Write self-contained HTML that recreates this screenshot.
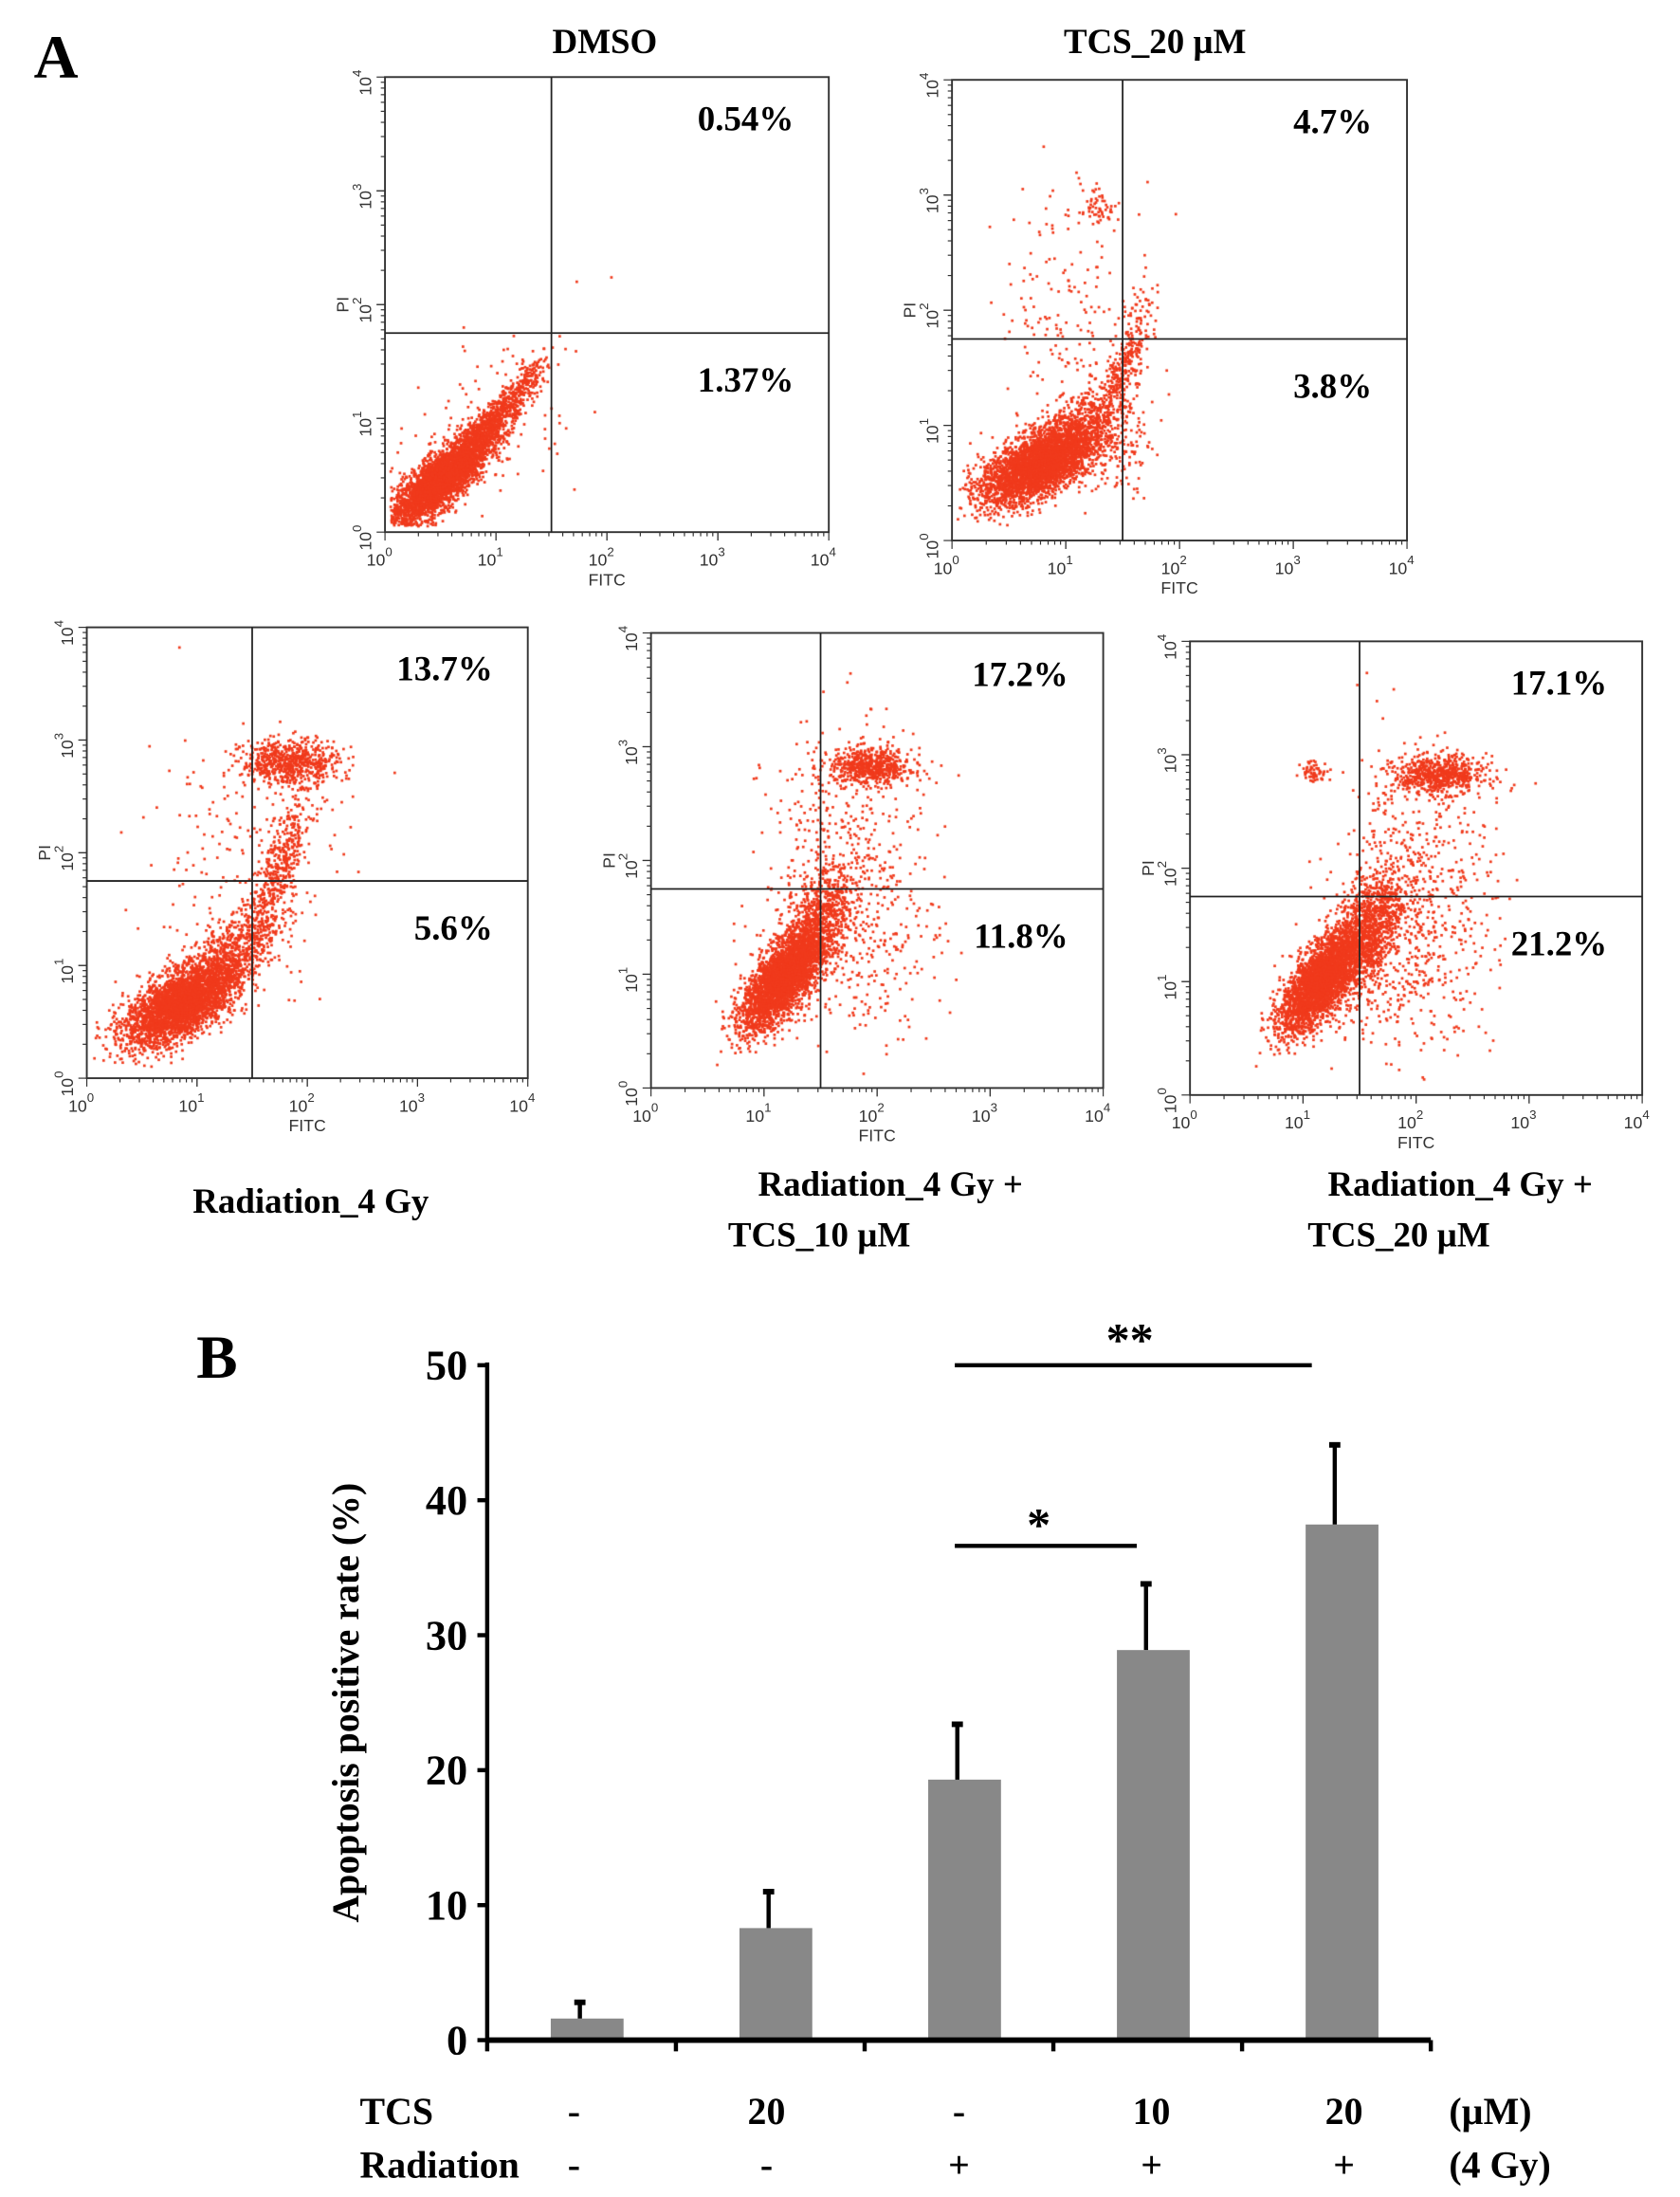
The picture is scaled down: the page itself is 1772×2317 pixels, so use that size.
<!DOCTYPE html>
<html><head><meta charset="utf-8"><style>
html,body{margin:0;padding:0;background:#fff}
#wrap{position:relative;width:1772px;height:2317px}
canvas,svg{position:absolute;left:0;top:0}
text{font-family:"Liberation Serif",serif}
.ax{font-family:"Liberation Sans",sans-serif;font-size:12px;fill:#333}
</style></head><body>
<div id="wrap">
<canvas id="dots" width="1772" height="2317"></canvas>
<svg id="fig" width="1772" height="2317" viewBox="0 0 1200 1569"></svg>
</div>
<script>
// ---- Panel A data ----
const plotNames=["DMSO","TCS_20 µM","Radiation_4 Gy","Radiation_4 Gy + TCS_10 µM","Radiation_4 Gy + TCS_20 µM"];
const upperPct=["0.54%","4.7%","13.7%","17.2%","17.1%"];
const lowerPct=["1.37%","3.8%","5.6%","11.8%","21.2%"];
const gateX=[1.5,1.5,1.5,1.5,1.5];
const gateY=[1.75,1.75,1.75,1.75,1.75];
// clusters: [plot, cx(log), cy(log), sx, sy, rho, n]
const clusters=[
[0,0.5,0.45,0.22,0.2,0.8,3500],[0,0.95,0.95,0.2,0.2,0.9,900],[0,1.3,1.4,0.1,0.1,0.8,80],[0,0.8,0.8,0.5,0.5,0.6,150],
[1,0.75,0.65,0.25,0.17,0.6,3200],[1,1.05,0.9,0.2,0.2,0.6,700],[1,1.5,1.45,0.12,0.3,0.8,350],[1,1.3,2.9,0.07,0.08,0,50],[1,1.1,2.0,0.35,0.6,0,200],[1,1.45,0.8,0.15,0.2,0,120],
[2,0.85,0.65,0.25,0.18,0.6,3200],[2,1.25,1.05,0.25,0.25,0.7,800],[2,1.75,1.85,0.15,0.35,0.8,450],[2,1.85,2.8,0.22,0.1,0,650],[2,1.4,2.0,0.45,0.6,0,180],
[3,1.15,0.95,0.17,0.22,0.7,3000],[3,1.45,1.35,0.15,0.3,0.6,900],[3,1.95,2.82,0.18,0.08,0,600],[3,1.7,2.0,0.35,0.6,0,450],[3,1.8,1.3,0.4,0.4,0,250],
[4,1.15,1.0,0.17,0.22,0.7,3000],[4,1.55,1.4,0.17,0.3,0.6,1200],[4,2.2,2.82,0.2,0.08,0,650],[4,1.1,2.85,0.06,0.05,0,60],[4,2.0,1.9,0.35,0.6,0,500],[4,1.9,1.2,0.4,0.4,0,300]
];
// ---- Panel B data ----
const groups=["DMSO","TCS 20","Rad","Rad+TCS10","Rad+TCS20"];
const meanVals=[1.6,8.3,19.3,28.9,38.2];
const errVals=[1.2,2.7,4.1,4.9,5.9];
const yTicks=[0,10,20,30,40,50];
const tcsLabels=["-","20","-","10","20"];
const radLabels=["-","-","+","+","+"];

const NS="http://www.w3.org/2000/svg";
const svg=document.getElementById('fig');
function mk(tag,attrs,parent,txt){const e=document.createElementNS(NS,tag);for(const k in attrs)e.setAttribute(k,attrs[k]);if(txt!==undefined)e.textContent=txt;(parent||svg).appendChild(e);return e;}

const boxes=[{l:275,r:592,t:55,b:380},{l:680,r:1005,t:57,b:386},{l:62,r:377,t:448,b:770},{l:465,r:788,t:452,b:777},{l:850,r:1173,t:458,b:782}];
const ctx=document.getElementById('dots').getContext('2d');
const S=1772/1200;
let seed=12345;function rnd(){seed=(seed*1103515245+12345)&0x7fffffff;return seed/0x7fffffff;}
function gauss(){let u=rnd()||1e-6,v=rnd();return Math.sqrt(-2*Math.log(u))*Math.cos(2*Math.PI*v);}

boxes.forEach((B,i)=>{
  const g=mk('g',{},svg);
  
  
  const xs=v=>B.l+(B.r-B.l)*v/4, ys=v=>B.b-(B.b-B.t)*v/4;
  ctx.fillStyle='#f03a1c';
  clusters.filter(c=>c[0]===i).forEach(c=>{
    for(let k=0;k<c[6];k++){const a=gauss(),b=gauss();const x=c[1]+c[3]*a,y=c[2]+c[4]*(c[5]*a+Math.sqrt(1-c[5]*c[5])*b);
      if(x<0.05||x>3.95||y<0.05||y>3.95)continue;ctx.fillRect(xs(x)*S-1.3,ys(y)*S-1.3,2.7,2.7);}
  });
  const fr=mk('rect',{x:B.l,y:B.t,width:B.r-B.l,height:B.b-B.t,fill:'none',stroke:'#333','stroke-width':1.3},g);
  
  const gv=mk('line',{x1:xs(gateX[i]),x2:xs(gateX[i]),y1:B.t,y2:B.b,stroke:'#222','stroke-width':1.2},g);
  
  const gh=mk('line',{x1:B.l,x2:B.r,y1:ys(gateY[i]),y2:ys(gateY[i]),stroke:'#222','stroke-width':1.2},g);
  
  for(let d=0;d<4;d++)for(let m=1;m<=10;m++){const v=d+Math.log10(m);
    mk('line',{x1:xs(v),x2:xs(v),y1:B.b,y2:B.b+(m===1||m===10?6:3),stroke:'#333','stroke-width':0.8},g);
    mk('line',{y1:ys(v),y2:ys(v),x1:B.l,x2:B.l-(m===1||m===10?6:3),stroke:'#333','stroke-width':0.8},g);}
  for(let d=0;d<=4;d++){
    const tx=mk('text',{x:xs(d)-4,y:B.b+24,class:'ax','text-anchor':'middle'},g);tx.innerHTML='10<tspan dy="-7" font-size="9">'+d+'</tspan>';
    const ty=mk('text',{transform:`translate(${B.l-10},${ys(d)+4}) rotate(-90)`,class:'ax','text-anchor':'middle'},g);ty.innerHTML='10<tspan dy="-7" font-size="9">'+d+'</tspan>';
  }
  const fx=mk('text',{x:xs(2),y:B.b+38,class:'ax','text-anchor':'middle'},g,'FITC');
  
  const fy=mk('text',{transform:`translate(${B.l-26},${ys(2)}) rotate(-90)`,class:'ax','text-anchor':'middle'},g,'PI');
  
  const u=mk('text',{x:B.r-25,y:B.t+38,'font-size':25,'font-weight':'bold','text-anchor':'end'},g,upperPct[i]);
  
  const lo=mk('text',{x:B.r-25,y:ys(gateY[i])+42,'font-size':25,'font-weight':'bold','text-anchor':'end'},g,lowerPct[i]);
  
});
function lab(x,y,t,name,size,anchor){const e=mk('text',{x:x,y:y,'font-size':size||25,'font-weight':'bold','text-anchor':anchor||'middle'},svg,t);return e;}
lab(40,55,'A','panel-a-label',44);
lab(432,38,'DMSO','title-dmso');
lab(825,38,'TCS_20 µM','title-tcs-20');
lab(222,866,'Radiation_4 Gy','title-radiation');
lab(636,854,'Radiation_4 Gy +','title-rad-tcs10-line1');
lab(520,890,'TCS_10 µM','title-rad-tcs10-line2',25,'start');
lab(1043,854,'Radiation_4 Gy +','title-rad-tcs20-line1');
lab(934,890,'TCS_20 µM','title-rad-tcs20-line2',25,'start');

// ---- Panel B ----
lab(155,984,'B','panel-b-label',44);
const X0=348,X1=1022,Y0=1457,Y50=975;
const yS=v=>Y0-(Y0-Y50)*v/50;
const step=(X1-X0)/groups.length;
const xC=i=>X0+step*(i+0.5);
const gb=mk('g',{},svg);
meanVals.forEach((v,i)=>{
  const bw=52;
  const r=mk('rect',{x:xC(i)-bw/2+4,y:yS(v),width:bw,height:Y0-yS(v),fill:'#888'},gb);
  
  const ex=xC(i)-bw/2+4+bw*0.4;
  const e=mk('line',{x1:ex,x2:ex,y1:yS(v),y2:yS(v+errVals[i]),stroke:'#000','stroke-width':3},gb);
  
  mk('line',{x1:ex-4,x2:ex+4,y1:yS(v+errVals[i]),y2:yS(v+errVals[i]),stroke:'#000','stroke-width':4},gb);
});
const ya=mk('line',{x1:X0,x2:X0,y1:Y50-2,y2:Y0,stroke:'#000','stroke-width':3},gb);
const xa=mk('line',{x1:X0,x2:X1,y1:Y0,y2:Y0,stroke:'#000','stroke-width':4},gb);
yTicks.forEach(t=>{mk('line',{x1:X0-7,x2:X0,y1:yS(t),y2:yS(t),stroke:'#000','stroke-width':3},gb);
  const tl=mk('text',{x:X0-14,y:yS(t)+10,'font-size':30,'font-weight':'bold','text-anchor':'end'},gb,String(t));
  });
for(let i=0;i<=groups.length;i++)mk('line',{x1:X0+step*i,x2:X0+step*i,y1:Y0,y2:Y0+8,stroke:'#000','stroke-width':3},gb);
const yt=mk('text',{transform:'translate(256,1216) rotate(-90)','font-size':27,'font-weight':'bold','text-anchor':'middle'},gb,'Apoptosis positive rate (%)');

const s2=mk('line',{x1:682,x2:937,y1:975,y2:975,stroke:'#000','stroke-width':3},gb);
lab(807,968,'**','significance-stars-double',34);
const s1=mk('line',{x1:682,x2:812,y1:1104,y2:1104,stroke:'#000','stroke-width':3},gb);
lab(742,1100,'*','significance-star-single',34);
lab(257,1517,'TCS','row-label-tcs',27,'start');
lab(257,1555,'Radiation','row-label-radiation',27,'start');
tcsLabels.forEach((t,i)=>lab(410+i*137.5,1517,t,'tcs-value',27));
radLabels.forEach((t,i)=>lab(410+i*137.5,1555,t,'radiation-value',27));
lab(1035,1517,'(µM)','unit-um',27,'start');
lab(1035,1555,'(4 Gy)','unit-gy',27,'start');
</script>
</body></html>
